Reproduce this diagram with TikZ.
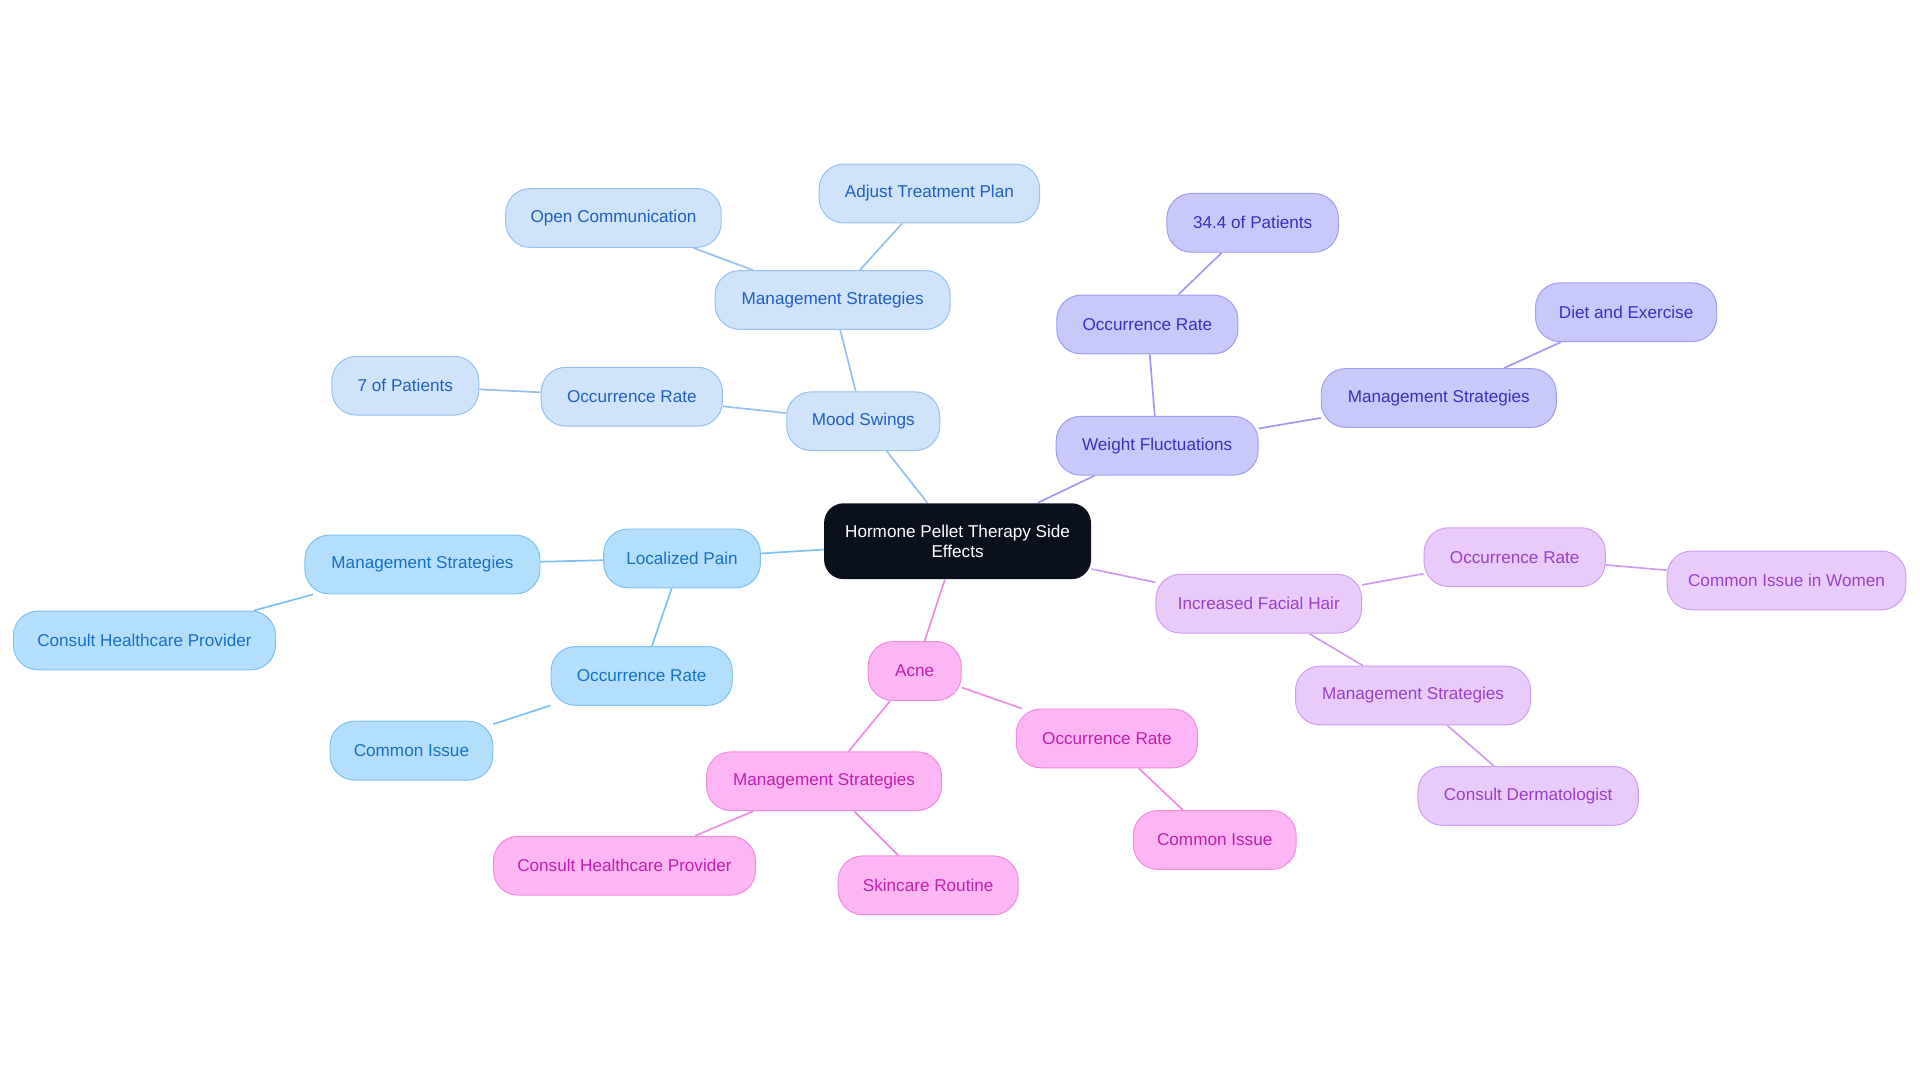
\documentclass[tikz,border=0pt]{standalone}
\usepackage{fontspec}
\setmainfont{Liberation Sans}
\usetikzlibrary{backgrounds}
\definecolor{bF}{HTML}{CFE3FB}\definecolor{bD}{HTML}{95C1F2}\definecolor{bT}{HTML}{1F5FBF}
\definecolor{lF}{HTML}{B3DFFC}\definecolor{lD}{HTML}{7CC1F3}\definecolor{lT}{HTML}{1670C4}
\definecolor{wF}{HTML}{C9C8FB}\definecolor{wD}{HTML}{A09CF2}\definecolor{wT}{HTML}{3A2FBF}
\definecolor{fF}{HTML}{E8CBFB}\definecolor{fD}{HTML}{CF9CF0}\definecolor{fT}{HTML}{9A3FC8}
\definecolor{aF}{HTML}{FDB5F3}\definecolor{aD}{HTML}{F08CE0}\definecolor{aT}{HTML}{C21FB0}
\definecolor{cF}{HTML}{0B111C}
\tikzset{
 base/.style={rounded corners=20pt,minimum height=48pt,font=\fontsize{14pt}{16pt}\selectfont,align=center,inner sep=0pt,line width=0.8pt},
 mb/.style={base,fill=bF,draw=bD,text=bT},
 ml/.style={base,fill=lF,draw=lD,text=lT},
 mw/.style={base,fill=wF,draw=wD,text=wT},
 mf/.style={base,fill=fF,draw=fD,text=fT},
 ma/.style={base,fill=aF,draw=aD,text=aT},
 e/.style={line width=1.4pt}
}
\begin{document}
\begin{tikzpicture}[x=1pt,y=-1pt]
\useasboundingbox (0,0) rectangle (1568,884);
\node[base,fill=cF,text=white,minimum width=218pt,minimum height=62pt,rounded corners=16pt] (c) at (782,442) {Hormone Pellet Therapy Side\\Effects};
\node[mb,minimum width=125pt] (ms) at (705,344) {Mood Swings};
\node[mb,minimum width=192pt] (msm) at (680,245) {Management Strategies};
\node[mb,minimum width=176pt] (oc) at (501,178) {Open Communication};
\node[mb,minimum width=180pt] (at) at (759,158) {Adjust Treatment Plan};
\node[mb,minimum width=148pt] (mso) at (516,324) {Occurrence Rate};
\node[mb,minimum width=120pt] (s7) at (331,315) {7 of Patients};
\node[ml,minimum width=128pt] (lp) at (557,456) {Localized Pain};
\node[ml,minimum width=192pt] (lpm) at (345,461) {Management Strategies};
\node[ml,minimum width=214pt] (lpc) at (118,523) {Consult Healthcare Provider};
\node[ml,minimum width=148pt] (lpo) at (524,552) {Occurrence Rate};
\node[ml,minimum width=133pt] (lpi) at (336,613) {Common Issue};
\node[mw,minimum width=165pt] (w) at (945,364) {Weight Fluctuations};
\node[mw,minimum width=148pt] (wo) at (937,265) {Occurrence Rate};
\node[mw,minimum width=140pt] (w34) at (1023,182) {34.4 of Patients};
\node[mw,minimum width=192pt] (wm) at (1175,325) {Management Strategies};
\node[mw,minimum width=148pt] (wd) at (1328,255) {Diet and Exercise};
\node[mf,minimum width=168pt] (f) at (1028,493) {Increased Facial Hair};
\node[mf,minimum width=148pt] (fo) at (1237,455) {Occurrence Rate};
\node[mf,minimum width=195pt] (fw) at (1459,474) {Common Issue in Women};
\node[mf,minimum width=192pt] (fm) at (1154,568) {Management Strategies};
\node[mf,minimum width=180pt] (fd) at (1248,650) {Consult Dermatologist};
\node[ma,minimum width=76pt] (a) at (747,548) {Acne};
\node[ma,minimum width=148pt] (ao) at (904,603) {Occurrence Rate};
\node[ma,minimum width=133pt] (ai) at (992,686) {Common Issue};
\node[ma,minimum width=192pt] (am) at (673,638) {Management Strategies};
\node[ma,minimum width=214pt] (ac) at (510,707) {Consult Healthcare Provider};
\node[ma,minimum width=147pt] (as) at (758,723) {Skincare Routine};
\begin{scope}[on background layer]
\draw[e,bD] (c)--(ms) (ms)--(msm) (msm)--(oc) (msm)--(at) (ms)--(mso) (mso)--(s7);
\draw[e,lD] (c)--(lp) (lp)--(lpm) (lpm)--(lpc) (lp)--(lpo) (lpo)--(lpi);
\draw[e,wD] (c)--(w) (w)--(wo) (wo)--(w34) (w)--(wm) (wm)--(wd);
\draw[e,fD] (c)--(f) (f)--(fo) (fo)--(fw) (f)--(fm) (fm)--(fd);
\draw[e,aD] (c)--(a) (a)--(ao) (ao)--(ai) (a)--(am) (am)--(ac) (am)--(as);
\end{scope}
\end{tikzpicture}
\end{document}
